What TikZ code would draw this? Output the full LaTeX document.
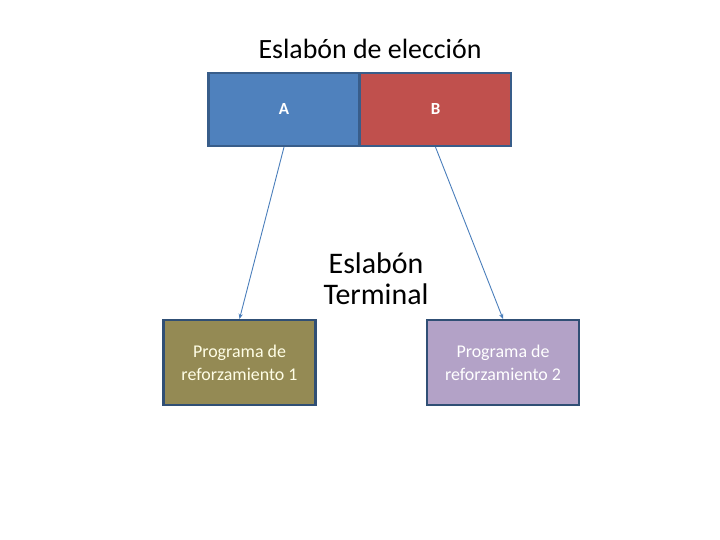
\documentclass[tikz,border=0pt]{standalone}
\usepackage{fontspec}
\setmainfont{Carlito}
\usetikzlibrary{arrows.meta,positioning}
\definecolor{frame}{RGB}{56,93,138}
\definecolor{blueA}{RGB}{79,129,189}
\definecolor{redB}{RGB}{192,80,77}
\definecolor{olive}{RGB}{148,138,84}
\definecolor{lilac}{RGB}{179,162,199}
\definecolor{wire}{RGB}{74,126,187}
\tikzset{
  >={Stealth[length=1.8mm,width=1.5mm]},
  link/.style={draw=frame,fill=#1,line width=2.2pt,minimum width=151bp,
    minimum height=73bp,text=white,font=\fontsize{17}{20}\selectfont\bfseries},
  prog/.style={draw=frame!85!black,fill=#1,line width=2.2pt,minimum width=152bp,
    minimum height=85bp,align=center,font=\fontsize{18}{23}\selectfont},
  flow/.style={->,draw=wire,line width=0.9pt},
  heading/.style={font=\fontsize{28}{31}\selectfont,align=center},
}

\begin{document}
\begin{tikzpicture}[x=1bp,y=-1bp]
  \useasboundingbox (0,0) rectangle (720,540);
  % choice link
  \node[heading] (title) at (370,49) {Eslabón de elección};
  \node[link=blueA] (eleccA) at (284,109.5) {A};
  \node[link=redB] (eleccB) at (435.5,109.5) {B};
  % terminal link
  \node[heading,font=\fontsize{30}{31}\selectfont] (term) at (376,279) {Eslabón\\Terminal};
  \node[prog=olive,text=white!90!yellow] (prog1) at (239.5,362.5) {Programa de\\reforzamiento 1};
  \node[prog=lilac,text=white] (prog2) at (503,362.5) {Programa de\\reforzamiento 2};
  \draw[flow] (eleccA.south) -- (prog1.north);
  \draw[flow] (eleccB.south) -- (prog2.north);
\end{tikzpicture}
\end{document}
